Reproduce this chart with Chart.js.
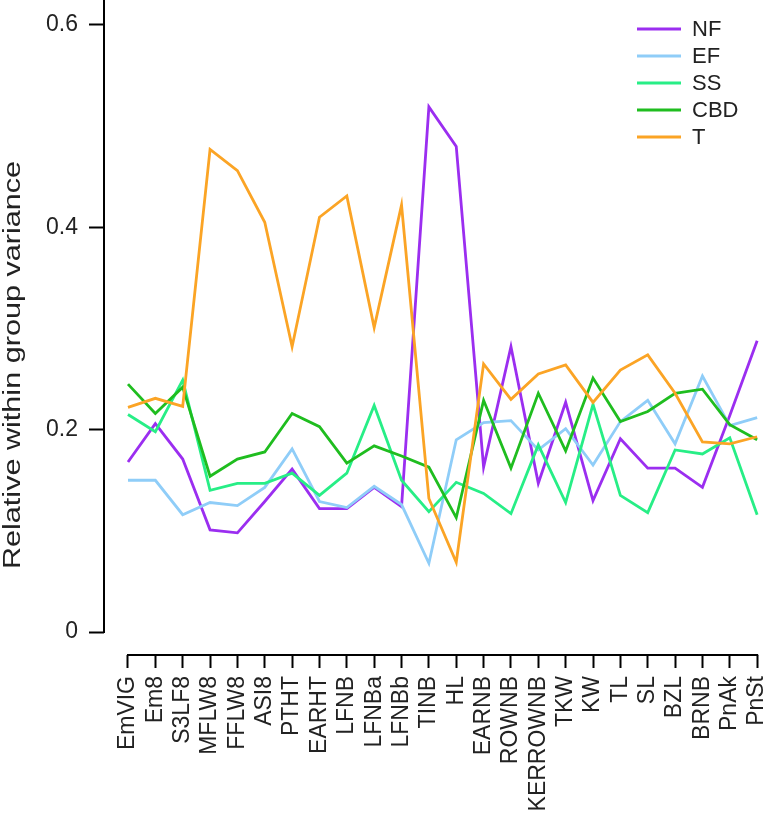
<!DOCTYPE html>
<html>
<head>
<meta charset="utf-8">
<script src="https://cdn.jsdelivr.net/npm/chart.js@4.4.0/dist/chart.umd.min.js"></script>
<style>
  body { margin: 0; background: #fff; }
  #wrap { width: 777px; height: 817px; }
</style>
</head>
<body>
<div id="wrap"><canvas id="myChart"></canvas></div>
<script>
// datos
const categories = ["EmVIG", "Em8", "S3LF8", "MFLW8", "FFLW8", "ASI8", "PTHT", "EARHT", "LFNB", "LFNBa", "LFNBb", "TINB", "HL", "EARNB", "ROWNB", "KERROWNB", "TKW", "KW", "TL", "SL", "BZL", "BRNB", "PnAk", "PnSt"];
const nf  = [0.168, 0.206, 0.171, 0.101, 0.098, 0.129, 0.161, 0.122, 0.122, 0.143, 0.124, 0.519, 0.480, 0.163, 0.282, 0.147, 0.227, 0.130, 0.191, 0.162, 0.162, 0.143, 0.214, 0.288];
const ef  = [0.150, 0.150, 0.116, 0.128, 0.125, 0.143, 0.181, 0.129, 0.123, 0.144, 0.126, 0.068, 0.190, 0.207, 0.209, 0.180, 0.201, 0.165, 0.208, 0.229, 0.186, 0.253, 0.204, 0.212];
const ss  = [0.215, 0.198, 0.249, 0.140, 0.147, 0.147, 0.157, 0.135, 0.157, 0.224, 0.150, 0.119, 0.148, 0.137, 0.117, 0.185, 0.128, 0.225, 0.135, 0.118, 0.180, 0.176, 0.192, 0.116];
const cbd = [0.245, 0.216, 0.242, 0.154, 0.171, 0.178, 0.216, 0.203, 0.167, 0.184, 0.174, 0.163, 0.113, 0.229, 0.162, 0.236, 0.179, 0.251, 0.208, 0.218, 0.236, 0.240, 0.205, 0.190];
const tt  = [0.222, 0.231, 0.223, 0.477, 0.456, 0.405, 0.282, 0.410, 0.431, 0.301, 0.422, 0.132, 0.069, 0.265, 0.230, 0.255, 0.264, 0.227, 0.259, 0.274, 0.236, 0.188, 0.186, 0.193];
const yTicks = [0, 0.2, 0.4, 0.6];
const yTitle = "Relative within group variance";

const fontFam = "'Liberation Sans', Arial, sans-serif";

function serie(label, valores, color, orden) {
  return {
    label: label,
    data: valores.map((v, i) => ({ x: i, y: v })),
    borderColor: color,
    backgroundColor: color,
    borderWidth: 2.8,
    pointRadius: 0,
    tension: 0,
    fill: false,
    order: orden
  };
}

const datasets = [
  serie("NF", nf, "#9b2ef0", 5),
  serie("EF", ef, "#8fcdf8", 4),
  serie("SS", ss, "#27ee86", 3),
  serie("CBD", cbd, "#1fbd1f", 2),
  serie("T", tt, "#fba425", 1)
];

// ejes estilo R, leyenda y titulo del eje y
const ejesR = {
  id: "ejesR",
  afterDraw(chart) {
    const ctx = chart.ctx;
    const xs = chart.scales.x;
    const ys = chart.scales.y;
    const area = chart.chartArea;
    ctx.save();
    ctx.strokeStyle = "#000";
    ctx.lineWidth = 2;
    ctx.beginPath();
    ctx.moveTo(area.left, area.top);
    ctx.lineTo(area.left, ys.getPixelForValue(0) + 1);
    ctx.moveTo(xs.getPixelForValue(0) - 1, area.bottom);
    ctx.lineTo(xs.getPixelForValue(categories.length - 1) + 1, area.bottom);
    ctx.stroke();

    // titulo eje y
    ctx.fillStyle = "#222";
    ctx.font = "23px " + fontFam;
    ctx.textAlign = "center";
    ctx.textBaseline = "middle";
    ctx.translate(14, 365);
    ctx.rotate(-Math.PI / 2);
    ctx.scale(1.33, 1);
    ctx.fillText(yTitle, 0, 0);
    ctx.restore();

    // leyenda
    ctx.save();
    ctx.font = "22px " + fontFam;
    ctx.textAlign = "left";
    ctx.textBaseline = "middle";
    const orden = ["NF", "EF", "SS", "CBD", "T"];
    orden.forEach((lab, i) => {
      const ds = chart.data.datasets.find(d => d.label === lab);
      const y = 29 + 27 * i;
      ctx.strokeStyle = ds.borderColor;
      ctx.lineWidth = 2.8;
      ctx.beginPath();
      ctx.moveTo(637, y);
      ctx.lineTo(681, y);
      ctx.stroke();
      ctx.fillStyle = "#222";
      ctx.fillText(lab, 692, y + 1);
    });
    ctx.restore();
  }
};

const config = {
  type: "line",
  data: { datasets },
  options: {
    responsive: true,
    maintainAspectRatio: false,
    animation: false,
    layout: { padding: { top: 0, right: 7, left: 0, bottom: 0 } },
    plugins: { legend: { display: false }, tooltip: { enabled: false } },
    scales: {
      x: {
        type: "linear",
        min: -0.877,
        max: 23.47,
        afterBuildTicks: (scale) => { scale.ticks = categories.map((c, i) => ({ value: i })); },
        afterFit: (scale) => { scale.height = 162; scale.paddingLeft = 0; scale.paddingRight = 0; },
        border: { display: false },
        grid: { display: true, drawOnChartArea: false, drawTicks: true, tickLength: 13, tickWidth: 2, tickColor: "#000" },
        ticks: {
          autoSkip: false,
          maxRotation: 90,
          minRotation: 90,
          padding: 8,
          color: "#222",
          font: { size: 23, family: fontFam },
          callback: (v) => categories[v]
        }
      },
      y: {
        min: -0.0227,
        max: 0.6247,
        afterBuildTicks: (scale) => { scale.ticks = yTicks.map(v => ({ value: v })); },
        afterFit: (scale) => { scale.width = 104; scale.paddingTop = 0; scale.paddingBottom = 0; },
        border: { display: false },
        grid: { display: true, drawOnChartArea: false, drawTicks: true, tickLength: 15, tickWidth: 2, tickColor: "#000" },
        ticks: {
          padding: 11,
          color: "#222",
          font: { size: 23, family: fontFam },
          callback: (v) => v === 0 ? "0" : v.toFixed(1)
        }
      }
    }
  },
  plugins: [ejesR]
};

const myChart = new Chart(document.getElementById("myChart"), config);
</script>
</body>
</html>
